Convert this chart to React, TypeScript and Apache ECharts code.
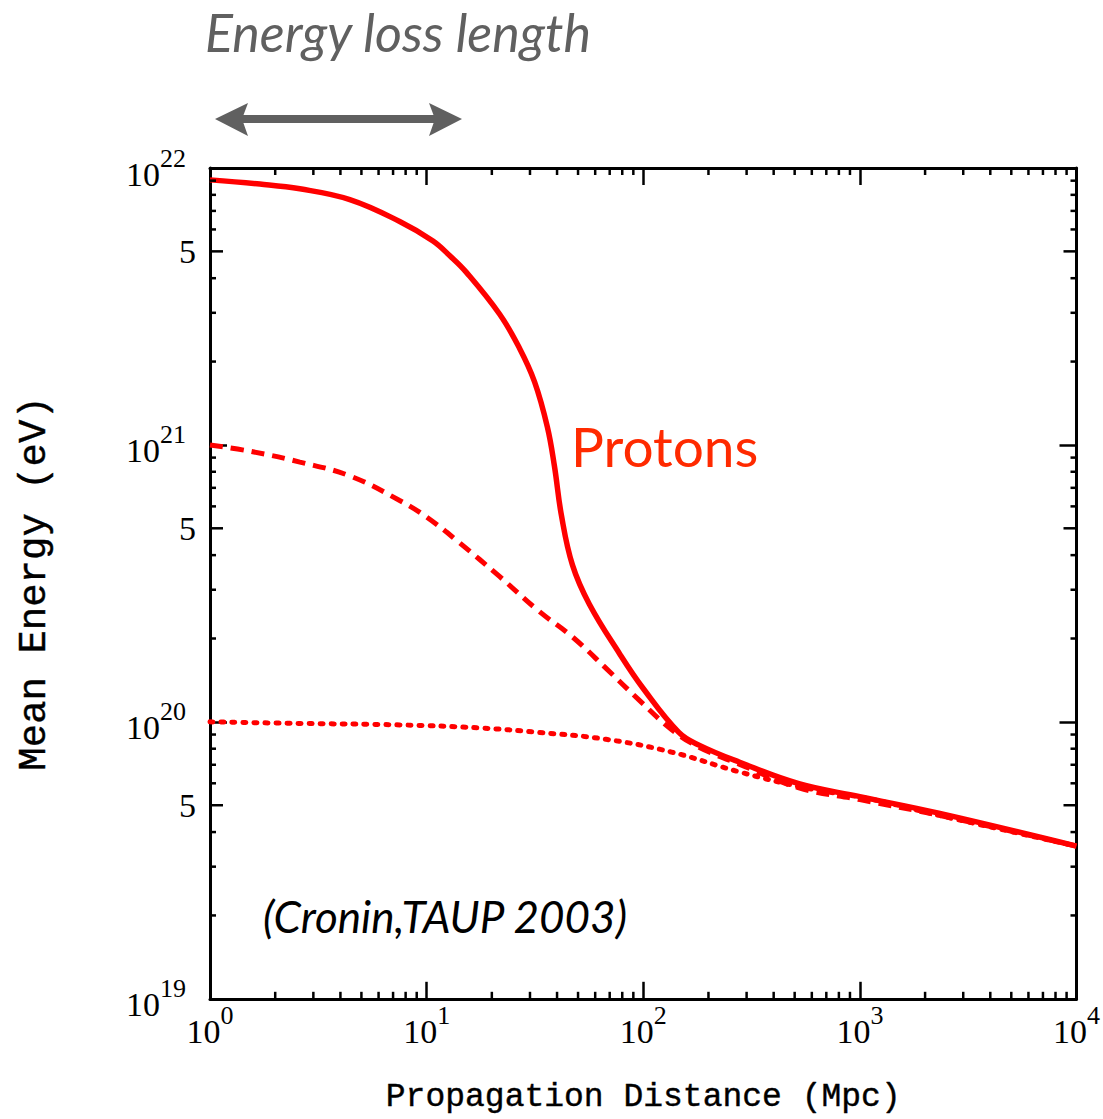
import React, { useEffect, useRef } from "react";
import * as echarts from "echarts";

// Propagation distance (Mpc)
const protonDist = [1, 1.7, 2.6, 4.42, 7.51, 10.7, 12.8, 15.3, 21.7, 26.8, 31.5, 36.1, 38.9, 41.9, 47.1, 56.4, 77.5, 100, 146, 181, 277, 523, 1000, 2312, 10000];
// Mean energy (eV), initial 1e22
const protonE22 = [9.06e21, 8.75e21, 8.41e21, 7.69e21, 6.41e21, 5.45e21, 4.82e21, 4.19e21, 2.97e21, 2.24e21, 1.69e21, 1.16e21, 8.39e20, 5.57e20, 3.69e20, 2.66e20, 1.77e20, 1.32e20, 9.16e19, 8.24e19, 7.16e19, 5.98e19, 5.37e19, 4.68e19, 3.56e19];

const dashDist = [1, 1.53, 2.6, 4.42, 7.51, 10, 14.2, 21.7, 33.0, 47.0, 67.4, 95.5, 135, 181, 277, 523, 1000, 2312, 10000];
const protonE21 = [1.0e21, 9.49e20, 8.67e20, 7.73e20, 6.3e20, 5.49e20, 4.43e20, 3.35e20, 2.51e20, 2.03e20, 1.56e20, 1.2e20, 9.39e19, 8.1e19, 7.04e19, 5.78e19, 5.24e19, 4.6e19, 3.56e19];

const dotDist = [1, 2.6, 7.51, 17.5, 33, 67.4, 135, 277, 560, 1140, 2312, 10000];
const protonE20 = [1.0e20, 9.87e19, 9.75e19, 9.51e19, 9.16e19, 8.65e19, 7.78e19, 6.6e19, 5.78e19, 5.25e19, 4.6e19, 3.56e19];

const X_MIN = 1;
const X_MAX = 1e4;
const Y_MIN = 1e19;
const Y_MAX = 1e22;

const xDecades = [1, 10, 100, 1000];
const yDecades = [1e19, 1e20, 1e21];
const minorMults = [2, 3, 4, 5, 6, 7, 8, 9];
const yMinorMults = [2, 3, 4, 6, 7, 8, 9];
const yHalfMult = 5;
const yHalfLabel = "5";

const titleText = "Energy loss length";
const protonsText = "Protons";
const citeText = "(Cronin,TAUP 2003)";
const xName = "Propagation Distance (Mpc)";
const yName = "Mean Energy (eV)";

const RED = "#ff0000";

export default function App() {
  const ref = useRef<HTMLDivElement>(null);
  useEffect(() => {
    if (!ref.current) return;
    const chart = echarts.init(ref.current, null, { renderer: "svg" });

    const xMinor: number[][] = [];
    xDecades.forEach((d) => minorMults.forEach((m) => xMinor.push([d * m, Y_MIN])));
    const yMinor: number[][] = [];
    yDecades.forEach((d) => yMinorMults.forEach((m) => yMinor.push([X_MIN, d * m])));
    const yHalf: number[][] = yDecades.map((d) => [X_MIN, d * yHalfMult]);

    const tickStyle = { stroke: "#000", lineWidth: 2.5 };

    const expFormatter = (v: number) => {
      const e = Math.round(Math.log10(v));
      return `{base|10}{sup|${e}}`;
    };
    const richLabel = {
      base: { fontFamily: "Liberation Serif", fontSize: 34, lineHeight: 46, verticalAlign: "bottom", color: "#000" },
      sup: { fontFamily: "Liberation Serif", fontSize: 26, lineHeight: 26, verticalAlign: "top", color: "#000" },
    };

    const axisLine = { show: true, lineStyle: { color: "#000", width: 3 } };
    const tick = { show: true, inside: true, length: 17, lineStyle: { color: "#000", width: 2.5 } };
    const nameStyle = (size: number) => ({
      fontFamily: "Liberation Mono",
      fontSize: size,
      color: "#000",
      textBorderColor: "#000",
      textBorderWidth: 0.4,
    });

    const option: any = {
      animation: false,
      backgroundColor: "#fff",
      grid: { left: 210, top: 168, right: 25, bottom: 109, containLabel: false },
      xAxis: [
        {
          type: "log",
          logBase: 10,
          min: X_MIN,
          max: X_MAX,
          position: "bottom",
          axisLine,
          axisTick: tick,
          splitLine: { show: false },
          axisLabel: { formatter: expFormatter, rich: richLabel, margin: 4, fontSize: 34, fontFamily: "Liberation Serif", color: "#000" },
          name: xName,
          nameLocation: "middle",
          nameGap: 82,
          nameTextStyle: nameStyle(33),
        },
        {
          type: "log",
          logBase: 10,
          min: X_MIN,
          max: X_MAX,
          position: "top",
          axisLine,
          axisTick: tick,
          splitLine: { show: false },
          axisLabel: { show: false },
        },
      ],
      yAxis: [
        {
          type: "log",
          logBase: 10,
          min: Y_MIN,
          max: Y_MAX,
          position: "left",
          axisLine,
          axisTick: tick,
          splitLine: { show: false },
          axisLabel: { formatter: expFormatter, rich: richLabel, margin: 24, align: "right", fontSize: 34, fontFamily: "Liberation Serif", color: "#000" },
          name: yName,
          nameLocation: "middle",
          nameGap: 156,
          nameRotate: 90,
          nameTextStyle: nameStyle(39),
        },
        {
          type: "log",
          logBase: 10,
          min: Y_MIN,
          max: Y_MAX,
          position: "right",
          axisLine,
          axisTick: tick,
          splitLine: { show: false },
          axisLabel: { show: false },
        },
      ],
      series: [
        {
          type: "line",
          data: protonDist.map((x, i) => [x, protonE22[i]]),
          showSymbol: false,
          smooth: 0.4,
          lineStyle: { color: RED, width: 5.5 },
          z: 3,
        },
        {
          type: "line",
          data: dashDist.map((x, i) => [x, protonE21[i]]),
          showSymbol: false,
          smooth: 0.4,
          lineStyle: { color: RED, width: 5, type: [13, 8] },
          z: 3,
        },
        {
          type: "line",
          data: dotDist.map((x, i) => [x, protonE20[i]]),
          showSymbol: false,
          smooth: 0.4,
          lineStyle: { color: RED, width: 5, type: [3, 8], cap: "round" },
          z: 3,
        },
        {
          type: "custom",
          silent: true,
          clip: false,
          data: xMinor,
          renderItem: (_p: any, api: any) => {
            const x = api.value(0);
            const b = api.coord([x, Y_MIN]);
            const t = api.coord([x, Y_MAX]);
            return {
              type: "group",
              children: [
                { type: "line", shape: { x1: b[0], y1: b[1], x2: b[0], y2: b[1] - 7 }, style: tickStyle },
                { type: "line", shape: { x1: t[0], y1: t[1], x2: t[0], y2: t[1] + 7 }, style: tickStyle },
              ],
            };
          },
          z: 4,
        },
        {
          type: "custom",
          silent: true,
          clip: false,
          data: yMinor,
          renderItem: (_p: any, api: any) => {
            const y = api.value(1);
            const l = api.coord([X_MIN, y]);
            const r = api.coord([X_MAX, y]);
            return {
              type: "group",
              children: [
                { type: "line", shape: { x1: l[0], y1: l[1], x2: l[0] + 6, y2: l[1] }, style: tickStyle },
                { type: "line", shape: { x1: r[0], y1: r[1], x2: r[0] - 6, y2: r[1] }, style: tickStyle },
              ],
            };
          },
          z: 4,
        },
        {
          type: "custom",
          silent: true,
          clip: false,
          data: yHalf,
          renderItem: (_p: any, api: any) => {
            const y = api.value(1);
            const l = api.coord([X_MIN, y]);
            const r = api.coord([X_MAX, y]);
            return {
              type: "group",
              children: [
                { type: "line", shape: { x1: l[0], y1: l[1], x2: l[0] + 13, y2: l[1] }, style: tickStyle },
                { type: "line", shape: { x1: r[0], y1: r[1], x2: r[0] - 13, y2: r[1] }, style: tickStyle },
                {
                  type: "text",
                  x: l[0] - 14,
                  y: l[1],
                  style: {
                    text: yHalfLabel,
                    fontFamily: "Liberation Serif",
                    fontSize: 34,
                    fill: "#000",
                    align: "right",
                    verticalAlign: "middle",
                  },
                },
              ],
            };
          },
          z: 4,
        },
      ],
      graphic: [
        {
          type: "text",
          left: 205,
          top: 6,
          style: {
            text: titleText,
            fontFamily: "Lato",
            fontStyle: "italic",
            fontSize: 52,
            fill: "#606060",
          },
        },
        {
          type: "line",
          shape: { x1: 240, y1: 119, x2: 438, y2: 119 },
          style: { stroke: "#606060", lineWidth: 8 },
        },
        {
          type: "polygon",
          shape: { points: [[215, 119], [248, 103], [242, 119], [248, 136]] },
          style: { fill: "#606060" },
        },
        {
          type: "polygon",
          shape: { points: [[462, 119], [429, 103], [435, 119], [429, 136]] },
          style: { fill: "#606060" },
        },
        {
          type: "text",
          left: 571,
          top: 418,
          style: {
            text: protonsText,
            fontFamily: "Lato",
            fontSize: 55,
            fill: "#ff2a00",
          },
        },
        {
          type: "text",
          left: 263,
          top: 894,
          style: {
            text: citeText,
            fontFamily: "Lato",
            fontStyle: "italic",
            fontSize: 44,
            fill: "#000",
          },
        },
      ],
    };
    chart.setOption(option);
    return () => chart.dispose();
  }, []);
  return <div ref={ref} style={{ position: "fixed", left: 0, top: 0, width: 1103, height: 1119 }} />;
}
